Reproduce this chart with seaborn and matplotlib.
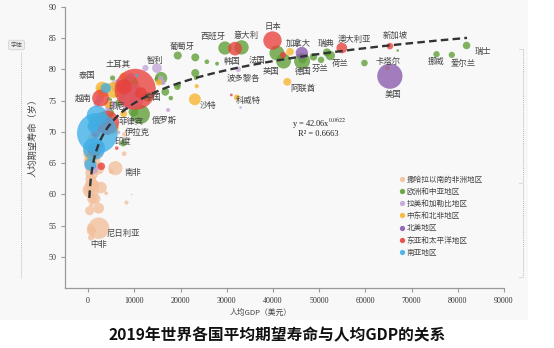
import numpy as np
import pandas as pd
import matplotlib
matplotlib.use("Agg")
import matplotlib.pyplot as plt
import seaborn as sns
from matplotlib.lines import Line2D
from matplotlib.patches import Rectangle

# ---------------- data ----------------
regions = ["撒哈拉以南的非洲地区", "欧洲和中亚地区", "拉美和加勒比地区", "中东和北非地区",
           "北美地区", "东亚和太平洋地区", "南亚地区"]
region_colors = ["#F2C09C", "#5E9E35", "#C2A5DA", "#F7B52C", "#8A5AAE", "#E8403C", "#3EAFE8"]

# Sub-Saharan Africa
ssa_names = ["南非", "尼日利亚", "中非", "埃塞俄比亚", "刚果(金)", "坦桑尼亚", "肯尼亚", "乌干达", "苏丹",
             "莫桑比克", "马达加斯加", "安哥拉", "加纳", "喀麦隆", "科特迪瓦", "尼日尔", "马里", "布基纳法索",
             "马拉维", "赞比亚", "乍得", "塞内加尔", "津巴布韦", "几内亚", "卢旺达", "贝宁", "布隆迪", "多哥",
             "塞拉利昂", "莱索托", "博茨瓦纳", "纳米比亚", "加蓬", "赤道几内亚", "利比里亚", "刚果(布)",
             "毛里塔尼亚", "冈比亚", "几内亚比绍", "索马里", "斯威士兰", "其他"]
ssa_gdp = [5900, 2290, 650, 850, 580, 1100, 1820, 800, 440, 500, 520, 2800, 2200, 1500, 2280, 550, 880, 790,
           410, 1300, 710, 1450, 1460, 960, 820, 1220, 260, 680, 530, 1100, 7900, 5000, 7800, 8300, 620, 2280,
           1680, 780, 700, 320, 3900, 9400]
ssa_life = [64.2, 54.6, 53.1, 66.6, 60.7, 65.5, 66.7, 63.4, 65.3, 60.9, 66.7, 61.1, 64.1, 59.3, 57.8, 62.4, 59.3,
            61.6, 64.3, 63.9, 54.2, 67.9, 61.5, 61.6, 69.0, 61.8, 61.6, 61.0, 54.7, 54.3, 69.6, 63.7, 66.5, 58.7,
            64.1, 64.6, 64.9, 62.1, 58.3, 57.4, 60.2, 60.0]
ssa_pop = [58, 200, 4.7, 112, 87, 58, 52, 44, 43, 30, 27, 32, 30, 26, 26, 23, 20, 20, 19, 18, 16, 16, 15, 13, 13,
           12, 12, 8, 7.8, 2.1, 2.3, 2.5, 2.2, 1.4, 4.9, 5.4, 4.5, 2.3, 1.9, 15.4, 1.1, 0.1]

# Europe & Central Asia
eca_names = ["西班牙", "意大利", "葡萄牙", "希腊", "法国", "英国", "德国", "芬兰", "瑞典", "荷兰", "奥地利", "比利时",
             "丹麦", "冰岛", "挪威", "爱尔兰", "瑞士", "俄罗斯", "土耳其", "波兰", "捷克", "斯洛文尼亚", "塞浦路斯",
             "爱沙尼亚", "立陶宛", "拉脱维亚", "斯洛伐克", "匈牙利", "克罗地亚", "罗马尼亚", "保加利亚", "塞尔维亚",
             "哈萨克斯坦", "乌克兰", "白俄罗斯", "乌兹别克斯坦", "吉尔吉斯斯坦", "塔吉克斯坦", "土库曼斯坦",
             "阿塞拜疆", "格鲁吉亚", "亚美尼亚", "摩尔多瓦", "阿尔巴尼亚", "北马其顿", "波黑", "黑山"]
eca_gdp = [29600, 33200, 23200, 19400, 40850, 42300, 46300, 50400, 51700, 52400, 48760, 46400, 59800, 67000,
           75400, 78700, 81900, 11300, 9100, 15800, 23200, 25700, 27900, 23300, 19500, 17900, 19300, 16700,
           15000, 12900, 9800, 7400, 9800, 3660, 6700, 1720, 1310, 870, 7600, 4800, 4700, 4600, 4500, 5300,
           6100, 6100, 8900]
eca_life = [83.4, 83.5, 81.9, 82.2, 82.6, 81.3, 81.3, 81.5, 82.7, 82.2, 82.0, 81.6, 81.0, 83.0, 82.4, 82.3, 83.8,
            72.8, 77.7, 78.6, 79.4, 81.2, 80.9, 78.6, 77.5, 75.4, 77.2, 76.4, 78.4, 75.6, 75.1, 75.8, 73.2, 72.1,
            74.6, 71.7, 71.5, 71.1, 68.2, 73.0, 73.8, 75.1, 71.9, 78.6, 75.9, 77.3, 76.9]
eca_pop = [47, 60, 10.3, 10.7, 67, 67, 83, 5.5, 10.3, 17.3, 8.9, 11.5, 5.8, 0.36, 5.3, 4.9, 8.6, 144, 83, 38,
           10.7, 2.1, 1.2, 1.3, 2.8, 1.9, 5.5, 9.8, 4.1, 19.4, 7.0, 7.0, 18.5, 44, 9.4, 33, 6.5, 9.3, 5.9, 10,
           3.7, 3.0, 2.7, 2.9, 2.1, 3.3, 0.6]

# Latin America & Caribbean
lac_names = ["智利", "哥斯达黎加", "波多黎各", "巴哈马", "巴西", "墨西哥", "阿根廷", "哥伦比亚", "秘鲁", "厄瓜多尔",
             "乌拉圭", "巴拿马", "特立尼达和多巴哥", "危地马拉", "洪都拉斯", "尼加拉瓜", "萨尔瓦多", "玻利维亚",
             "巴拉圭", "多米尼加", "牙买加", "海地", "古巴", "圭亚那"]
lac_gdp = [14900, 12400, 32500, 33000, 8900, 9950, 10000, 6400, 7000, 6200, 16200, 15700, 17300, 4600, 2570,
           1910, 4190, 3550, 5400, 8300, 5580, 1270, 9100, 6600]
lac_life = [80.2, 80.2, 80.0, 73.9, 75.9, 75.1, 76.7, 77.3, 76.7, 77.0, 77.9, 78.5, 73.5, 74.3, 75.3, 74.5,
            73.3, 71.5, 74.3, 74.1, 74.5, 64.0, 78.8, 69.9]
lac_pop = [19, 5, 3.2, 0.39, 211, 128, 45, 50, 32, 17, 3.5, 4.2, 1.4, 17, 9.7, 6.5, 6.5, 11.5, 7, 10.7, 2.9,
           11.3, 11.3, 0.8]

# Middle East & North Africa
mena_names = ["沙特", "科威特", "阿联酋", "以色列", "卡塔尔", "巴林", "阿曼", "伊拉克", "伊朗", "埃及", "阿尔及利亚",
              "摩洛哥", "突尼斯", "约旦", "黎巴嫩", "利比亚", "也门"]
mena_gdp = [23100, 32200, 43100, 43700, 64750, 23500, 15300, 5300, 5500, 3020, 3000, 3200, 3300, 4400, 7600,
            7700, 700]
mena_life = [75.2, 75.5, 78.0, 82.8, 80.2, 77.3, 77.9, 70.6, 76.7, 71.8, 77.0, 76.5, 76.7, 74.4, 78.9, 72.9, 66.1]
mena_pop = [34, 4.2, 9.8, 9, 2.8, 1.6, 5, 39, 83, 100, 43, 36, 11.7, 10, 6.9, 6.8, 29]

# North America
na_names = ["美国", "加拿大"]
na_gdp = [65300, 46250]
na_life = [78.9, 82.6]
na_pop = [328, 38]

# East Asia & Pacific
eap_names = ["日本", "韩国", "中国", "越南", "印尼", "菲律宾", "泰国", "马来西亚", "澳大利亚", "新加坡", "新西兰",
             "文莱", "缅甸", "柬埔寨", "老挝", "蒙古", "巴布亚新几内亚", "斐济", "东帝汶"]
eap_gdp = [39900, 31800, 10200, 2700, 4130, 3480, 7800, 11400, 54900, 65300, 42200, 31000, 1400, 1640, 2530,
           4300, 2850, 6200, 1560]
eap_life = [84.6, 83.3, 76.8, 75.4, 71.5, 71.2, 77.2, 76.2, 83.4, 83.7, 82.3, 75.9, 67.1, 69.8, 67.9, 69.9,
            64.5, 67.4, 69.5]
eap_pop = [126, 52, 1400, 96, 270, 108, 70, 32, 25, 5.7, 4.9, 0.43, 54, 16.5, 7.2, 3.2, 8.8, 0.9, 1.3]

# South Asia
sa_names = ["印度", "巴基斯坦", "孟加拉国", "尼泊尔", "阿富汗", "斯里兰卡", "不丹", "马尔代夫"]
sa_gdp = [2000, 1290, 1860, 1070, 500, 3850, 3300, 10600]
sa_life = [69.8, 67.3, 72.6, 70.8, 64.8, 77.0, 71.8, 79.0]
sa_pop = [1366, 216, 163, 28.6, 38, 21.8, 0.76, 0.53]

# trend line y = a * x^b (from chart annotation)
trend_a, trend_b = 42.06, 0.0622
trend_r2 = 0.6663
trend_x_range = (260, 82000)

x_ticks = list(range(0, 90001, 10000))
y_ticks = list(range(50, 91, 5))

# labels shown on the chart, offsets in pixels (dx, dy down)
label_offsets = {
    "日本": (0, -13.5), "西班牙": (-12, -11.5), "意大利": (5, -12), "韩国": (-3, 13), "葡萄牙": (-13, -11),
    "智利": (-2, -8), "法国": (-20, 7), "英国": (-13, 10.5), "德国": (1.5, 10.5), "加拿大": (-3.5, -10),
    "阿联酋": (16, 6.5), "芬兰": (-1, 8), "瑞典": (-1, -8.5), "荷兰": (10, 8), "澳大利亚": (13, -9),
    "新加坡": (5, -11), "卡塔尔": (1, -6.5), "美国": (3, 18), "挪威": (0, 7.5), "爱尔兰": (11.5, 8.5),
    "瑞士": (16, 6), "沙特": (13, 6.5), "科威特": (11, 3.5), "波多黎各": (5, 9), "南非": (18, 4.5),
    "尼日利亚": (25, 5.5), "中非": (7.5, 7), "泰国": (-37, -11), "土耳其": (-12, -19), "印尼": (10, -16),
    "菲律宾": (27, -2.5), "伊拉克": (25, 4.5), "印度": (26, 8), "中国": (17, 8), "俄罗斯": (24, 6),
    "越南": (-17, 0),
}

# ---------------- build table ----------------
blocks = [
    (regions[0], ssa_names, ssa_gdp, ssa_life, ssa_pop),
    (regions[1], eca_names, eca_gdp, eca_life, eca_pop),
    (regions[2], lac_names, lac_gdp, lac_life, lac_pop),
    (regions[3], mena_names, mena_gdp, mena_life, mena_pop),
    (regions[4], na_names, na_gdp, na_life, na_pop),
    (regions[5], eap_names, eap_gdp, eap_life, eap_pop),
    (regions[6], sa_names, sa_gdp, sa_life, sa_pop),
]
frames = []
for reg, n, g, l, p in blocks:
    frames.append(pd.DataFrame({"country": n, "region": reg, "gdp": g, "life": l, "pop": p}))
df = pd.concat(frames, ignore_index=True)
df["bubble"] = df["pop"] ** (2.0 / 3.0)

# ---------------- plot ----------------
sns.set_theme(style="white")
plt.rcParams["font.family"] = ["Noto Sans CJK SC", "DejaVu Sans"]
plt.rcParams["mathtext.fontset"] = "stix"

W, H = 554, 348
fig = plt.figure(figsize=(W / 100, H / 100), dpi=100)
fig.patch.set_facecolor("white")
fig.patches.append(Rectangle((0, 1 - 320 / H), 528 / W, 320 / H, transform=fig.transFigure,
                             facecolor="#f8f8f8", edgecolor="none", zorder=-10))

ax_l, ax_r, ax_t, ax_b = 65, 504, 6.7, 288.3
ax = fig.add_axes([ax_l / W, 1 - ax_b / H, (ax_r - ax_l) / W, (ax_b - ax_t) / H])
ax.set_facecolor("none")

max_r_px = 20.5
s_max = (2 * max_r_px * 0.72) ** 2
sns.scatterplot(data=df, x="gdp", y="life", hue="region", hue_order=regions,
                palette=dict(zip(regions, region_colors)), size="bubble",
                sizes=(0, s_max), size_norm=(0, df["bubble"].max()),
                alpha=0.78, linewidth=0, legend=False, ax=ax, zorder=2)

tx = np.linspace(trend_x_range[0], trend_x_range[1], 500)
ty = trend_a * tx ** trend_b
ax.plot(tx, ty, color="#333333", lw=1.7, linestyle=(0, (3.2, 1.8)), zorder=4)

ax.set_xlim(-5000, 90000)
ax.set_ylim(45, 90)
ax.set_xticks(x_ticks)
ax.set_yticks(y_ticks)
ax.set_xlabel("")
ax.set_ylabel("")
ax.tick_params(axis="both", bottom=True, left=True, length=3, width=0.8, color="#999999",
               labelsize=5.8, labelcolor="#333333", pad=3)
for lbl in ax.get_xticklabels() + ax.get_yticklabels():
    lbl.set_fontfamily("Liberation Serif")
sns.despine(ax=ax)
for side in ("left", "bottom"):
    ax.spines[side].set_color("#999999")
    ax.spines[side].set_linewidth(0.9)

# country labels
lookup = df.set_index("country")
for name, (dx, dy) in label_offsets.items():
    row = lookup.loc[name]
    ax.annotate(name, xy=(row["gdp"], row["life"]), xytext=(dx * 0.72, -dy * 0.72),
                textcoords="offset points", ha="center", va="center", fontsize=6,
                color="#444444", zorder=6)

# legend
handles = [Line2D([], [], marker="o", ls="", markersize=3.8, markerfacecolor=c,
                  markeredgewidth=0, alpha=0.9) for c in region_colors]
ax.legend(handles, regions, loc="upper left",
          bbox_to_anchor=((398 - ax_l) / (ax_r - ax_l), (ax_b - 175.5) / (ax_b - ax_t)),
          frameon=False, fontsize=5.5, handletextpad=0.1, labelspacing=0.55, borderpad=0,
          borderaxespad=0, handlelength=1.0, labelcolor="#444444")

# equation
fig.text(291.7 / W, 1 - 123.5 / H, r"y = 42.06x$^{0.0622}$", fontfamily="Liberation Serif",
         fontsize=6, ha="left", va="center", color="#222222")
fig.text(298 / W, 1 - 134 / H, "R² = " + f"{trend_r2:.4f}", fontfamily="Liberation Serif",
         fontsize=6, ha="left", va="center", color="#222222")

# axis labels and title
fig.text(33 / W, 1 - 135 / H, "人均期望寿命（岁）", rotation=90, fontsize=6.7,
         ha="center", va="center", color="#444444")
fig.text(261 / W, 1 - 313 / H, "人均GDP（美元）", fontsize=5.6, ha="center", va="center",
         color="#444444")
fig.text(277 / W, 1 - 335 / H, "2019年世界各国平均期望寿命与人均GDP的关系", fontsize=11.3,
         fontweight="bold", ha="center", va="center", color="#111111")

# screenshot UI remnants
fig.text(16.5 / W, 1 - 45 / H, "字体", fontsize=4.3, ha="center", va="center", color="#555555",
         bbox=dict(boxstyle="round,pad=0.35", fc="#eeeeee", ec="#cccccc", lw=0.5))
fig.add_artist(Line2D([21 / W, 21 / W], [1 - 52 / H, 1 - 278 / H], transform=fig.transFigure,
                      ls=(0, (1, 1)), color="#bbbbbb", lw=0.7))
fig.add_artist(Line2D([523 / W, 523 / W], [1 - 49 / H, 1 - 277 / H], transform=fig.transFigure,
                      ls=(0, (1, 1)), color="#bbbbbb", lw=0.7))
for yy in (49, 183, 277):
    fig.add_artist(Line2D([519 / W, 523 / W], [1 - yy / H, 1 - yy / H], transform=fig.transFigure,
                          ls=(0, (1, 1)), color="#bbbbbb", lw=0.7))

fig.savefig("out.png", dpi=100)
